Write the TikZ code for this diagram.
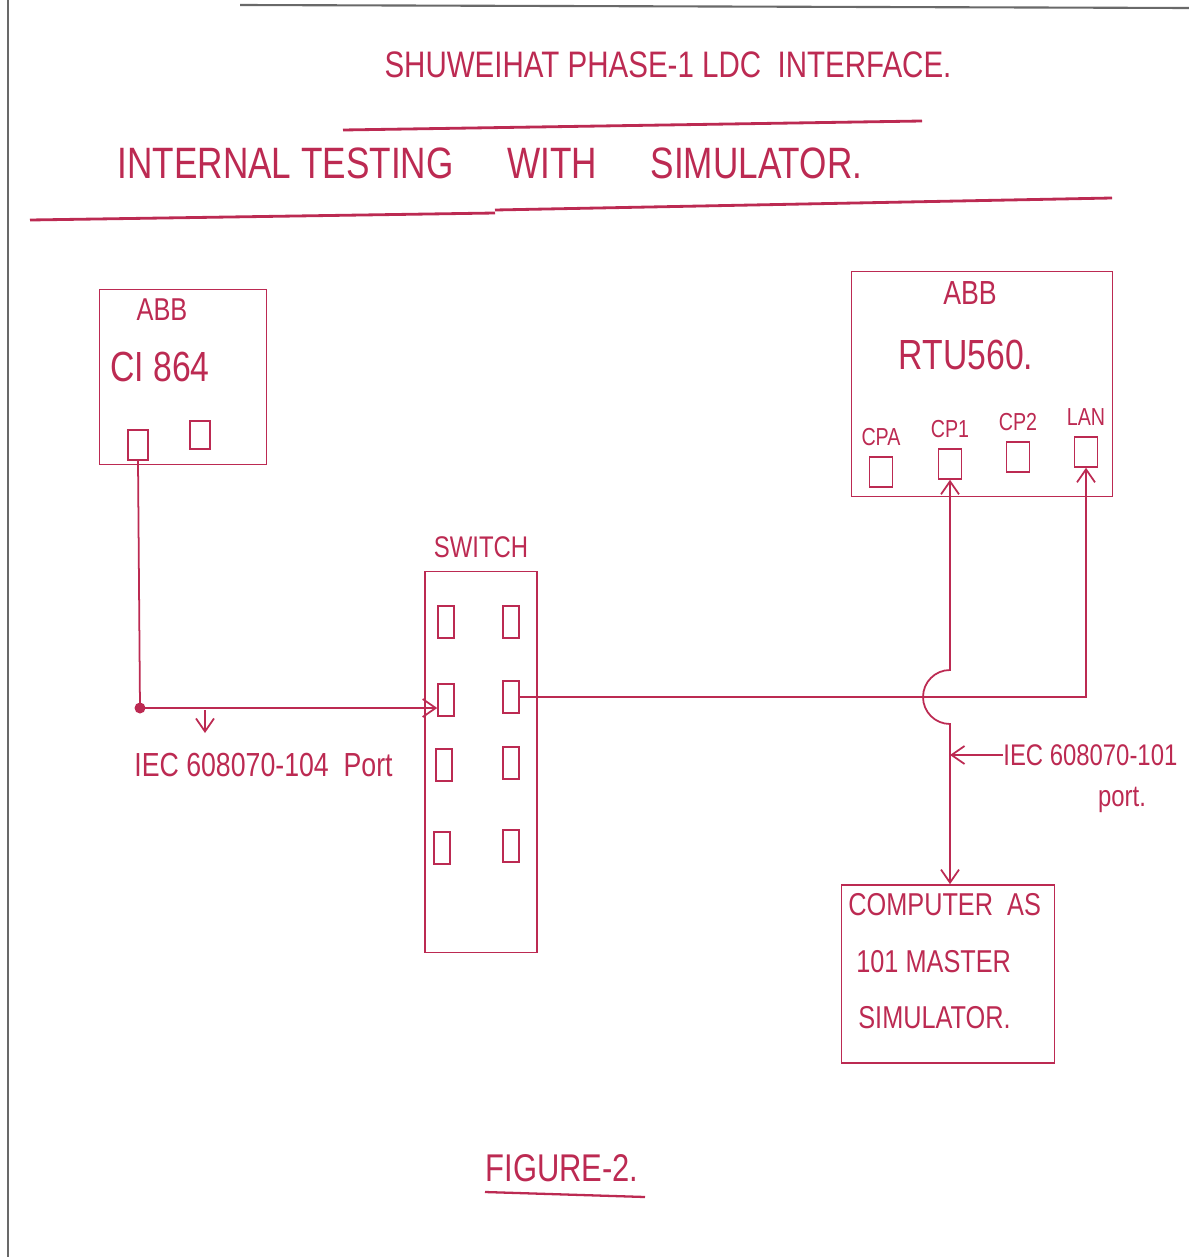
\documentclass[tikz,border=0pt]{standalone}
\usepackage{fontspec}
\newfontfamily\hand[FakeStretch=0.8]{Liberation Sans}
\usetikzlibrary{positioning,arrows.meta}
\definecolor{ink}{RGB}{188,42,82}
\definecolor{sheet}{RGB}{105,105,105}
\tikzset{
  unit box/.style={
    draw=ink, line width=1pt, inner sep=0pt
  },
  port/.style={
    draw=ink, line width=0.9pt, inner sep=0pt, minimum width=4.6mm, minimum height=6mm
  },
  sw port/.style={
    draw=ink, line width=0.9pt, inner sep=0pt, minimum width=3.2mm, minimum height=6.4mm
  },
  hand/.style={
    text=ink, inner sep=0pt, font=\hand\fontsize{#1}{#1}\selectfont
  },
  hand/.default=16,
  wire/.style={
    draw=ink, line width=1pt
  },
  rule/.style={
    draw=ink, line width=1.6pt
  },
  junction/.style={
    circle, fill=ink, inner sep=0pt, minimum size=2.2mm
  }
}

\begin{document}
\begin{tikzpicture}[x=0.02cm, y=-0.02cm, >={Straight Barb[length=2.6mm,width=3.6mm]}]
\useasboundingbox (0,0) rectangle (1189,1257);

% ------------------------------------------------
% sheet edges and headings
% ------------------------------------------------
\draw[sheet, line width=1.2pt] (8,0) -- (8,1257);
\draw[sheet, line width=1.2pt] (240,5) -- (1189,8);

\node[hand=21] (title)    at (668,65)  {SHUWEIHAT PHASE-1 LDC \ INTERFACE.};
\draw[rule] (343,130) -- (922,121);
\node[hand=25] (subtitle) at (490,163) {INTERNAL TESTING \quad WITH \quad SIMULATOR.};
\draw[rule] (30,220) -- (495,213);
\draw[rule] (495,210) -- (1112,198);

% ------------------------------------------------
% ABB CI 864
% ------------------------------------------------
\node[unit box, minimum width=3.34cm, minimum height=3.5cm] (ci) at (183,377) {};
\node[hand=18] (ciMake)  at (162,310) {ABB};
\node[hand=24] (ciName)  at (160,367) {CI 864};
\node[port, minimum width=4mm] (ciA) at (138,445) {};
\node[port, minimum width=4mm, minimum height=5.6mm] (ciB) at (200,435) {};

% ------------------------------------------------
% ABB RTU560 with its four ports
% ------------------------------------------------
\node[unit box, minimum width=5.22cm, minimum height=4.5cm] (rtu) at (982,384) {};
\node[hand=19] (rtuMake) at (970,293) {ABB};
\node[hand=24] (rtuName) at (966,355) {RTU560.};
\node[port] (rtuA)  at (881,472) {};
\node[port] (rtuP1) at (950,464) {};
\node[port] (rtuP2) at (1018,457) {};
\node[port] (rtuL)  at (1086,452) {};
\node[hand=14, above=2mm of rtuA]  (rtuAlbl)  {CPA};
\node[hand=14, above=2mm of rtuP1] (rtuP1lbl) {CP1};
\node[hand=14, above=2mm of rtuP2] (rtuP2lbl) {CP2};
\node[hand=14, above=2mm of rtuL]  (rtuLlbl)  {LAN};

% ------------------------------------------------
% switch, two columns of ports
% ------------------------------------------------
\node[unit box, minimum width=2.24cm, minimum height=7.62cm] (sw) at (481,762) {};
\node[hand=17, above=2.6mm of sw] (swName) {SWITCH};
\node[sw port] (swL1) at (446,622) {};
\node[sw port] (swR1) at (511,622) {};
\node[sw port] (swL2) at (446,700) {};
\node[sw port] (swR2) at (511,697) {};
\node[sw port] (swL3) at (444,765) {};
\node[sw port] (swR3) at (511,763) {};
\node[sw port] (swL4) at (442,848) {};
\node[sw port] (swR4) at (511,846) {};

% ------------------------------------------------
% computer running the 101 master simulator
% ------------------------------------------------
\node[unit box, minimum width=4.26cm, minimum height=3.56cm] (pc) at (948,974) {};
\node[hand=18, anchor=west] (pcLine1) at (848,905)  {COMPUTER \ AS};
\node[hand=18, anchor=west] (pcLine2) at (856,962)  {101 MASTER};
\node[hand=18, anchor=west] (pcLine3) at (858,1018) {SIMULATOR.};

% ------------------------------------------------
% links
% ------------------------------------------------
\node[junction] (jnCI) at (140,708) {};
\coordinate (tickA) at (205,710);
\coordinate (tickB) at (205,733);
\draw[wire] (ciA.south) -- (jnCI.center);
\draw[wire, ->] (jnCI.center) -- (jnCI -| swL2.west);
\draw[wire, ->] (tickA) -- (tickB);
\node[hand=19, anchor=west] (lbl104) at (134,765) {IEC 608070-104 \ Port};

\draw[wire, ->] (swR2.east) -- (swR2.east -| rtuL) -- (rtuL.south);

\coordinate (hopT) at (950,670);
\coordinate (p101) at (950,755);
\draw[wire, <->] (rtuP1.south) -- (hopT)
  arc[start angle=-90, end angle=-270, radius=27] -- (rtuP1 |- pc.north);
\node[hand=17, anchor=west] (lbl101)  at (1003,755) {IEC 608070-101};
\node[hand=17] (lbl101b) at (1122,800) {port.};
\draw[wire, ->] (lbl101.west) -- (p101);

% ------------------------------------------------
% caption
% ------------------------------------------------
\node[hand=22] (caption) at (562,1168) {FIGURE-2.};
\draw[wire, line width=1.3pt] (485,1192) -- (645,1197);
\end{tikzpicture}
\end{document}
